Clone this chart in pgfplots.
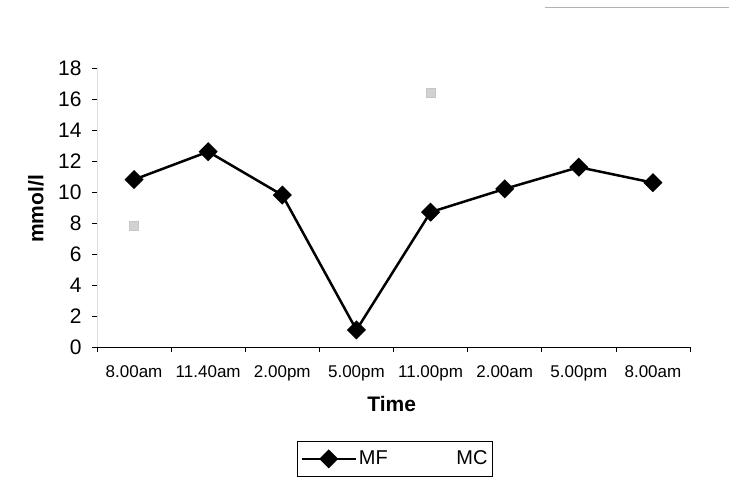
\documentclass[border=0pt]{standalone}
\usepackage{fontspec}
\setmainfont{Liberation Sans}
\usepackage{pgfplots}
\pgfplotsset{compat=1.18}
\begin{document}
\fontsize{16bp}{19bp}\selectfont
\begin{tikzpicture}[x=1bp,y=1bp]
\useasboundingbox (0,0) rectangle (729,490);
\draw[gray!60, line width=0.8bp] (545,483) -- (729,483);
\begin{axis}[
  at={(97bp,143bp)}, anchor=south west,
  scale only axis, width=593bp, height=279bp,
  xmin=-0.5, xmax=7.5, ymin=0, ymax=18,
  axis x line*=bottom, axis y line*=left,
  y axis line style={draw=gray!25},
  x axis line style={black, line width=0.8bp},
  xtick={0,...,7},
  xticklabels={8.00am,11.40am,2.00pm,5.00pm,11.00pm,2.00am,5.00pm,8.00am},
  major x tick style={draw=none},
  minor xtick={-0.5,0.5,...,7.5},
  minor tick length=5bp,
  tick align=outside,
  ytick={0,2,...,18},
  major tick length=5bp,
  tick style={black, line width=0.7bp},
  /pgf/number format/assume math mode=true,
  xticklabel style={font=\fontsize{17bp}{19bp}\selectfont, yshift=-8bp},
  yticklabel style={font=\fontsize{21bp}{24bp}\selectfont, xshift=-5bp},
  xlabel={\textbf{Time}},
  ylabel={\textbf{mmol/l}},
  xlabel style={font=\fontsize{21bp}{24bp}\selectfont, at={(rel axis cs:0.497,-0.204)}, anchor=center},
  ylabel style={font=\fontsize{21bp}{24bp}\selectfont, at={(rel axis cs:-0.103,0.495)}, anchor=center, rotate=0},
  legend columns=2,
  legend style={at={(rel axis cs:0.5025,-0.401)}, anchor=center,
    draw=black, line width=0.6bp, font=\fontsize{20bp}{22bp}\selectfont,
    /tikz/every even column/.append style={column sep=10bp},
    inner xsep=3bp, inner ysep=7bp},
  legend image code/.code={\draw[#1] (0bp,0bp) -- (54bp,0bp) plot coordinates {(27bp,0bp)};},
  clip=false,
]
\addplot[black, line width=2.5bp, mark=square*, mark size=5.5bp, mark options={rotate=45, solid}]
  coordinates {(0,10.8) (1,12.6) (2,9.8) (3,1.1) (4,8.7) (5,10.2) (6,11.6) (7,10.6)};
\addlegendentry{MF}
\addplot[forget plot, only marks, draw=gray!45, fill=gray!35, mark=square*, mark size=4.5bp]
  coordinates {(0,7.8) (4,16.4)};
\addlegendimage{opacity=0, mark=none}
\addlegendentry{MC}
\end{axis}
\end{tikzpicture}
\end{document}
